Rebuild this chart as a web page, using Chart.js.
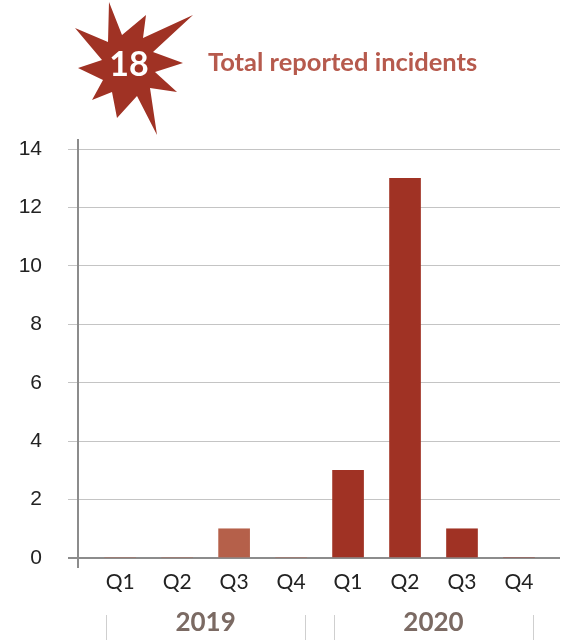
<!DOCTYPE html>
<html>
<head>
<meta charset="utf-8">
<script src="https://cdn.jsdelivr.net/npm/chart.js@4"></script>
<style>
  html, body { margin: 0; padding: 0; background: #fff; }
  #wrap { position: relative; width: 563px; height: 640px; }
  #chart { position: absolute; left: 0; top: 0; }
  #star { position: absolute; left: 0; top: 0; }
  #total {
    position: absolute; left: 94px; top: 43px; width: 70px; text-align: center;
    font-family: Lato, sans-serif; font-weight: 700; font-size: 34px; color: #fff; line-height: 40px;
  }
  #title {
    position: absolute; left: 208px; top: 45px;
    font-family: Lato, sans-serif; font-weight: 700; font-size: 25.5px; color: #b65a4d; line-height: 32px;
  }
</style>
</head>
<body>
<div id="wrap">
  <canvas id="chart" width="563" height="640"></canvas>
  <svg id="star" width="210" height="140">
    <polygon fill="#a03224" points="109,2 122,35 146,15 143,38 193,15 153,52 183,63 155,72 177,92 150,88 157,135 137,96 117,118 112,92 92,100 103,80 78,68 102,60 75,28 108,42"></polygon>
  </svg>
  <div id="total"></div>
  <div id="title">Total reported incidents</div>
</div>
<script>
// --- chart data ---
const years = ['2019', '2020'];
const quarters = ['Q1', 'Q2', 'Q3', 'Q4'];
const incidents2019 = [0, 0, 1, 0];
const incidents2020 = [3, 13, 1, 0];
const yTicks = [0, 2, 4, 6, 8, 10, 12, 14];

// --- colours ---
const darkRed = '#a03224';
const lightRed = '#b5604a';

// one slot per quarter, laid out left to right
const quarterLabels = [];
const points = [];
const barColors = [];
years.forEach((year, yi) => {
    const vals = yi === 0 ? incidents2019 : incidents2020;
    quarters.forEach((q, qi) => {
        const idx = yi * quarters.length + qi;
        quarterLabels.push(q);
        points.push({ x: idx, y: vals[qi] });
        barColors.push(yi === 0 ? lightRed : darkRed);
    });
});

const total = incidents2019.concat(incidents2020).reduce((a, b) => a + b, 0);
document.getElementById('total').textContent = total;

// year group centres and the little separators under them
const yearCentres = years.map((y, i) => i * quarters.length + (quarters.length - 1) / 2);
const groupEdges = [];
years.forEach((y, i) => {
    groupEdges.push(i * quarters.length - 0.25);
    groupEdges.push(i * quarters.length + quarters.length - 0.75);
});

// draws the y axis line (overshooting a little) and the year separators
const extrasPlugin = {
    id: 'extras',
    afterDraw(chart) {
        const ctx = chart.ctx;
        const area = chart.chartArea;
        const x = chart.scales.x;
        const x2 = chart.scales.x2;
        ctx.save();
        ctx.strokeStyle = '#8c8c8c';
        ctx.lineWidth = 2;
        ctx.beginPath();
        ctx.moveTo(area.left, area.top - 10);
        ctx.lineTo(area.left, area.bottom + 10);
        ctx.stroke();

        ctx.strokeStyle = '#cfcfcf';
        ctx.lineWidth = 1;
        groupEdges.forEach(v => {
            const px = Math.round(x.getPixelForValue(v)) + 0.5;
            ctx.beginPath();
            ctx.moveTo(px, x2.top + 11);
            ctx.lineTo(px, x2.bottom);
            ctx.stroke();
        });
        ctx.restore();
    }
};

new Chart(document.getElementById('chart').getContext('2d'), {
    type: 'bar',
    data: {
        datasets: [{
            label: 'Incidents',
            data: points,
            backgroundColor: barColors,
            borderWidth: 0,
            barThickness: 31
        }]
    },
    options: {
        responsive: false,
        animation: false,
        devicePixelRatio: 1,
        layout: { padding: { top: 149, right: 3, left: 0, bottom: 0 } },
        plugins: {
            legend: { display: false },
            tooltip: { enabled: false }
        },
        scales: {
            x: {
                type: 'linear',
                offset: false,
                min: -0.74,
                max: 7.72,
                grid: { display: false, drawTicks: false },
                border: { display: false },
                afterBuildTicks: scale => { scale.ticks = quarterLabels.map((q, i) => ({ value: i })); },
                ticks: {
                    includeBounds: false,
                    padding: 12,
                    color: '#222',
                    font: { family: 'Lato', size: 21 },
                    callback: v => quarterLabels[v]
                },
                afterFit: scale => { scale.height = 46; }
            },
            x2: {
                type: 'linear',
                position: 'bottom',
                offset: false,
                min: -0.74,
                max: 7.72,
                grid: { display: false, drawTicks: false },
                border: { display: false },
                afterBuildTicks: scale => { scale.ticks = yearCentres.map(v => ({ value: v })); },
                ticks: {
                    padding: 3,
                    color: '#7b6a63',
                    font: { family: 'Lato', size: 26, weight: 'bold' },
                    callback: v => years[yearCentres.indexOf(v)]
                },
                afterFit: scale => { scale.height = 36; }
            },
            y: {
                min: 0,
                max: 14,
                afterBuildTicks: scale => { scale.ticks = yTicks.map(v => ({ value: v })); },
                grid: {
                    color: ctx => ctx.tick && ctx.tick.value === 0 ? '#8c8c8c' : '#c4c4c4',
                    lineWidth: ctx => ctx.tick && ctx.tick.value === 0 ? 2 : 1,
                    tickLength: 10
                },
                border: { display: false },
                ticks: {
                    padding: 26,
                    color: '#222',
                    font: { family: 'Liberation Sans', size: 21 }
                },
                afterFit: scale => { scale.width = 78; }
            }
        }
    },
    plugins: [extrasPlugin]
});
</script>
</body>
</html>
